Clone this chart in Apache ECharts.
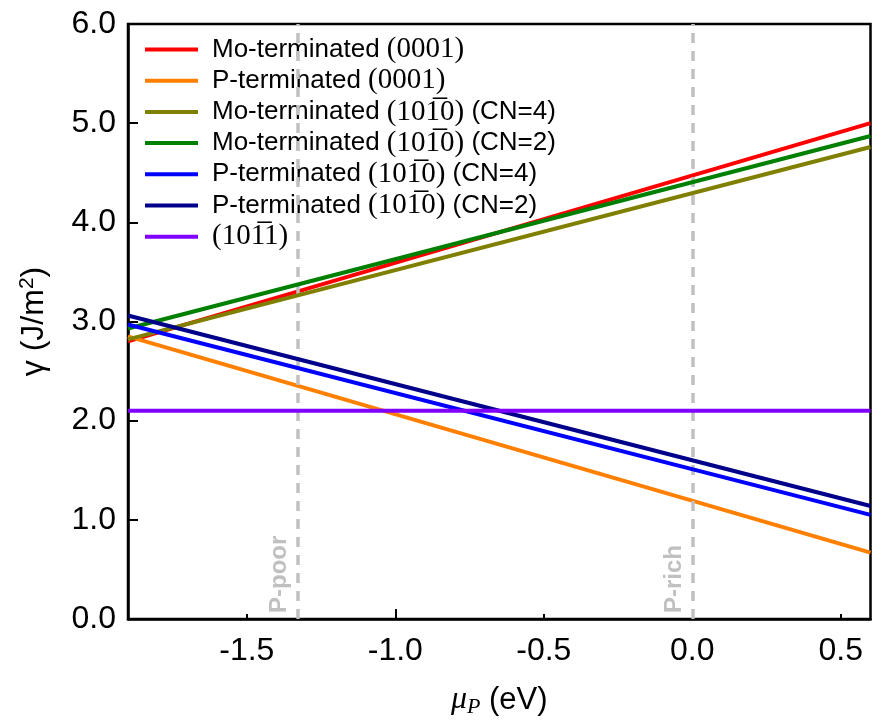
<!DOCTYPE html>
<html>
<head>
<meta charset="utf-8">
<script src="https://cdn.jsdelivr.net/npm/echarts@6/dist/echarts.min.js"></script>
<style>
  html, body { margin: 0; padding: 0; background: #fff; }
  #chart { width: 872px; height: 724px; }
</style>
</head>
<body>
<div id="chart"></div>
<script>
// line endpoints: each surface energy is linear in mu_P, so two x values are enough
const xEnds = [-1.9, 0.6]

const moTerm0001 = [2.80, 5.00]
const pTerm0001 = [2.85, 0.67]
const moTerm1010cn4 = [2.82, 4.76]
const moTerm1010cn2 = [2.93, 4.87]
const pTerm1010cn4 = [2.97, 1.05]
const pTerm1010cn2 = [3.06, 1.14]
const facet1011 = [2.10, 2.10]

const seriesNames = [
    'Mo-terminated |(0001)',
    'P-terminated |(0001)',
    'Mo-terminated |(101\u03050)| (CN=4)',
    'Mo-terminated |(101\u03050)| (CN=2)',
    'P-terminated |(101\u03050)| (CN=4)',
    'P-terminated |(101\u03050)| (CN=2)',
    '|(101\u03051)'
]
const seriesValues = [moTerm0001, pTerm0001, moTerm1010cn4, moTerm1010cn2, pTerm1010cn4, pTerm1010cn2, facet1011]
const colors = ['#ff0000', '#ff8000', '#808000', '#008000', '#0000ff', '#00008b', '#8000ff']

const xLabelValues = [-1.5, -1.0, -0.5, 0.0, 0.5]
const xMajorTicks = [-1.0, 0.0]
const xMinorTicks = [-1.5, -0.5, 0.5]

const limits = [
    { x: -1.33, name: 'P-poor' },
    { x: 0.0, name: 'P-rich' }
]

const SANS = 'Liberation Sans'
const SERIF = 'Liberation Serif'

const chart = echarts.init(document.getElementById('chart'))

const lineSeries = seriesNames.map((name, i) => ({
    name: name,
    type: 'line',
    xAxisIndex: 0,
    showSymbol: false,
    symbol: 'none',
    silent: true,
    data: xEnds.map((x, j) => [x, seriesValues[i][j]]),
    lineStyle: { color: colors[i], width: 4 },
    itemStyle: { color: colors[i] },
    z: 3 + i
}))

lineSeries.push({
    name: 'limits',
    type: 'line',
    data: [],
    markLine: {
        silent: true,
        symbol: 'none',
        lineStyle: { color: '#c0c0c0', width: 3.5, type: [10, 8] },
        label: {
            show: true,
            position: 'insideStartTop',
            formatter: p => p.name,
            color: '#c0c0c0',
            fontFamily: SANS,
            fontWeight: 'bold',
            fontSize: 24,
            distance: 6
        },
        data: limits.map(l => ({ xAxis: l.x, name: l.name }))
    },
    z: 1
})

const option = {
    animation: false,
    backgroundColor: '#fff',
    grid: {
        left: 128, right: 1.5, top: 24, bottom: 105,
        show: true, borderColor: '#000', borderWidth: 2.5
    },
    legend: {
        orient: 'vertical',
        left: 140, top: 30,
        icon: 'rect',
        itemWidth: 53, itemHeight: 4,
        itemGap: 2.2,
        data: seriesNames,
        formatter: name => {
            const parts = name.split('|')
            return parts.map((p, k) => {
                const key = k % 2 === 1 ? 'm' : (k === 0 ? 'f' : 's')
                return '{' + key + '|' + p + '}'
            }).join('')
        },
        textStyle: {
            rich: {
                f: { fontFamily: SANS, fontSize: 26, color: '#000', lineHeight: 30, padding: [0, 0, 0, 9] },
                s: { fontFamily: SANS, fontSize: 26, color: '#000', lineHeight: 30 },
                m: { fontFamily: SERIF, fontSize: 29, color: '#000', lineHeight: 30 }
            }
        }
    },
    xAxis: [{
        type: 'value',
        min: -1.9, max: 0.6,
        name: '{m|\u03bc}{sub|P}{s| (eV)}',
        nameLocation: 'middle',
        nameGap: 63,
        nameTextStyle: {
            rich: {
                m: { fontFamily: SERIF, fontStyle: 'italic', fontSize: 32, color: '#000' },
                sub: { fontFamily: SERIF, fontStyle: 'italic', fontSize: 22, color: '#000', padding: [14, 0, 0, 0] },
                s: { fontFamily: SANS, fontSize: 31, color: '#000' }
            }
        },
        axisLine: { show: true, onZero: false, lineStyle: { color: '#000', width: 2.5 } },
        axisTick: { show: true, inside: true, length: 10, customValues: xMajorTicks, lineStyle: { color: '#000', width: 2 } },
        axisLabel: {
            customValues: xLabelValues,
            formatter: v => v.toFixed(1),
            fontFamily: SANS, fontSize: 32, color: '#000', margin: 16
        },
        splitLine: { show: false }
    }, {
        type: 'value',
        min: -1.9, max: 0.6,
        position: 'bottom',
        axisLine: { show: false, onZero: false },
        axisTick: { show: true, inside: true, length: 5, customValues: xMinorTicks, lineStyle: { color: '#000', width: 2 } },
        axisLabel: { show: false },
        splitLine: { show: false }
    }],
    yAxis: {
        type: 'value',
        min: 0, max: 6, interval: 1,
        name: '{s|\u03b3 (J/m}{sup|2}{s|)}',
        nameLocation: 'middle',
        nameGap: 76,
        nameTextStyle: {
            rich: {
                s: { fontFamily: SANS, fontSize: 32, color: '#000' },
                sup: { fontFamily: SANS, fontSize: 21, color: '#000', padding: [0, 0, 14, 0] }
            }
        },
        axisLine: { show: true, onZero: false, lineStyle: { color: '#000', width: 2.5 } },
        axisTick: { show: true, inside: true, length: 10, lineStyle: { color: '#000', width: 2 } },
        axisLabel: {
            formatter: v => v.toFixed(1),
            fontFamily: SANS, fontSize: 32, color: '#000', margin: 12
        },
        splitLine: { show: false }
    },
    series: lineSeries
}

chart.setOption(option)
</script>
</body>
</html>
